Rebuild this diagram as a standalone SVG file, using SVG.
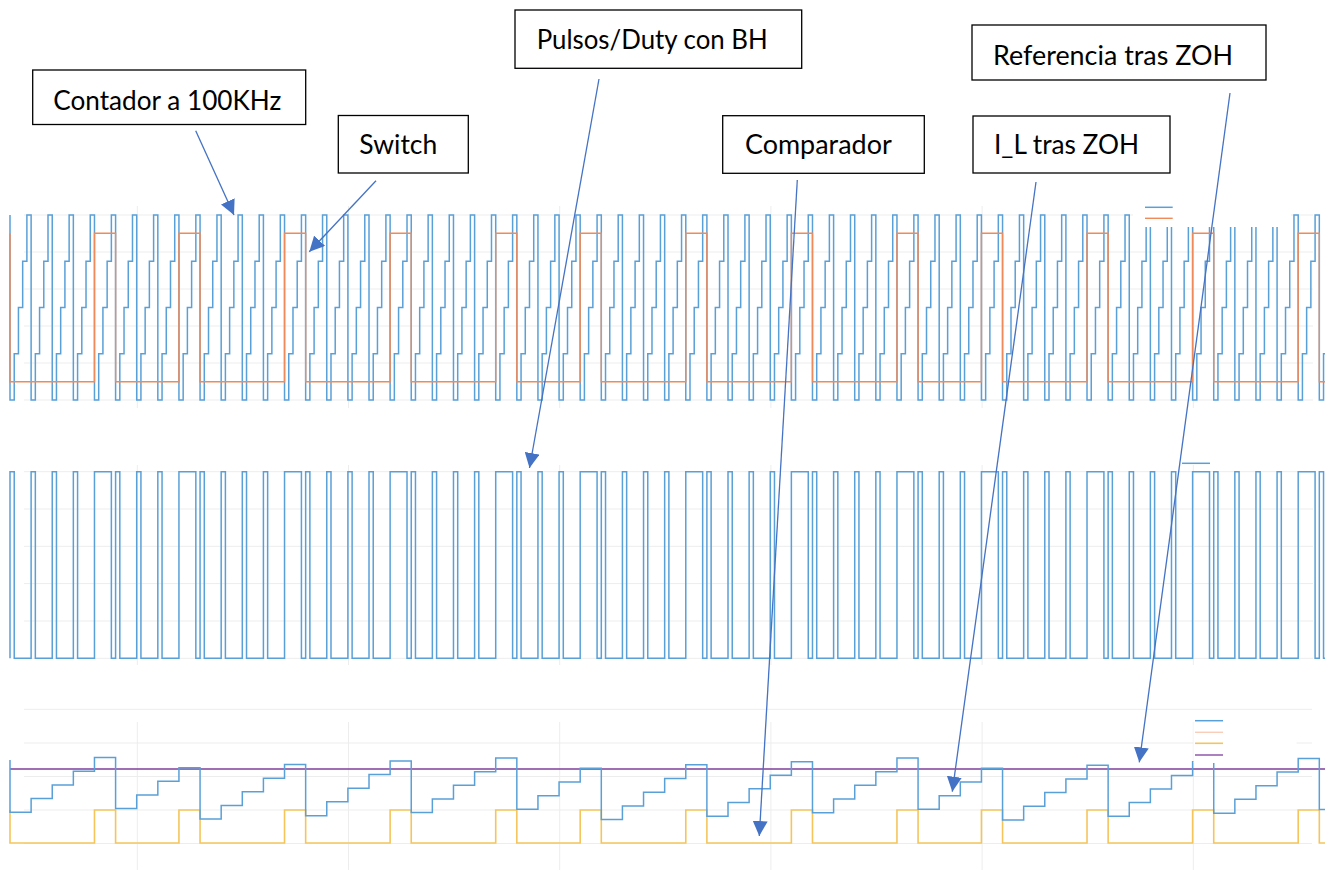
<svg xmlns="http://www.w3.org/2000/svg" width="1337" height="879" viewBox="0 0 1337 879">
  <style>
    .grid { stroke: #ededed; stroke-width: 1; fill: none; }
    .blue { stroke: #5aa0d8; stroke-width: 1.5; fill: none; stroke-linejoin: miter; }
    .orange { stroke: #ef8a5a; stroke-width: 1.4; fill: none; }
    .yellow { stroke: #f5c55c; stroke-width: 1.6; fill: none; }
    .purple { stroke: #7e3f9c; stroke-width: 1.3; fill: none; }
    .legend-bg { fill: #ffffff; stroke: none; }
    .box { fill: #ffffff; stroke: #000000; stroke-width: 1.3; }
    .label { font-family: Lato, "Liberation Sans", sans-serif; font-size: 27px; fill: #000000; }
    .conn { stroke: #4472c4; stroke-width: 1.3; fill: none; marker-end: url(#head); }
  </style>
  <defs>
    <marker id="head" viewBox="0 0 15 15" refX="15" refY="7.5" markerWidth="15" markerHeight="15" orient="auto" markerUnits="userSpaceOnUse">
      <path d="M0,0 L15,7.5 L0,15 z" fill="#4472c4"/>
    </marker>
  </defs>
  <rect width="1337" height="879" fill="#ffffff"/>

  <!-- top plot: counter and switch -->
  <g id="plot-counter">
    <path class="grid" d="M24,215H1313M24,252H1313M24,289H1313M24,326H1313M24,363H1313M24,400H1313M137.3,206V408M348.5,206V408M559.7,206V408M770.9,206V408M982.1,206V408M1193.3,206V408"/>
    <path class="blue" d="M10,215V400
      h4.2236V353.75h4.2236V307.5h4.2236V261.25h4.2236V215h4.2236V400h4.2236V353.75h4.2236V307.5h4.2236V261.25h4.2236V215h4.2236V400h4.2236V353.75h4.2236V307.5h4.2236V261.25h4.2236V215h4.2236V400h4.2236V353.75h4.2236V307.5h4.2236V261.25h4.2236V215h4.2236V400h4.2236V353.75h4.2236V307.5h4.2236V261.25h4.2236V215h4.2236V400
      h4.2236V353.75h4.2236V307.5h4.2236V261.25h4.2236V215h4.2236V400h4.2236V353.75h4.2236V307.5h4.2236V261.25h4.2236V215h4.2236V400h4.2236V353.75h4.2236V307.5h4.2236V261.25h4.2236V215h4.2236V400h4.2236V353.75h4.2236V307.5h4.2236V261.25h4.2236V215h4.2236V400h4.2236V353.75h4.2236V307.5h4.2236V261.25h4.2236V215h4.2236V400
      h4.2236V353.75h4.2236V307.5h4.2236V261.25h4.2236V215h4.2236V400h4.2236V353.75h4.2236V307.5h4.2236V261.25h4.2236V215h4.2236V400h4.2236V353.75h4.2236V307.5h4.2236V261.25h4.2236V215h4.2236V400h4.2236V353.75h4.2236V307.5h4.2236V261.25h4.2236V215h4.2236V400h4.2236V353.75h4.2236V307.5h4.2236V261.25h4.2236V215h4.2236V400
      h4.2236V353.75h4.2236V307.5h4.2236V261.25h4.2236V215h4.2236V400h4.2236V353.75h4.2236V307.5h4.2236V261.25h4.2236V215h4.2236V400h4.2236V353.75h4.2236V307.5h4.2236V261.25h4.2236V215h4.2236V400h4.2236V353.75h4.2236V307.5h4.2236V261.25h4.2236V215h4.2236V400h4.2236V353.75h4.2236V307.5h4.2236V261.25h4.2236V215h4.2236V400
      h4.2236V353.75h4.2236V307.5h4.2236V261.25h4.2236V215h4.2236V400h4.2236V353.75h4.2236V307.5h4.2236V261.25h4.2236V215h4.2236V400h4.2236V353.75h4.2236V307.5h4.2236V261.25h4.2236V215h4.2236V400h4.2236V353.75h4.2236V307.5h4.2236V261.25h4.2236V215h4.2236V400h4.2236V353.75h4.2236V307.5h4.2236V261.25h4.2236V215h4.2236V400
      h4.2236V353.75h4.2236V307.5h4.2236V261.25h4.2236V215h4.2236V400h4.2236V353.75h4.2236V307.5h4.2236V261.25h4.2236V215h4.2236V400h4.2236V353.75h4.2236V307.5h4.2236V261.25h4.2236V215h4.2236V400h4.2236V353.75h4.2236V307.5h4.2236V261.25h4.2236V215h4.2236V400h4.2236V353.75h4.2236V307.5h4.2236V261.25h4.2236V215h4.2236V400
      h4.2236V353.75h4.2236V307.5h4.2236V261.25h4.2236V215h4.2236V400h4.2236V353.75h4.2236V307.5h4.2236V261.25h4.2236V215h4.2236V400h4.2236V353.75h4.2236V307.5h4.2236V261.25h4.2236V215h4.2236V400h4.2236V353.75h4.2236V307.5h4.2236V261.25h4.2236V215h4.2236V400h4.2236V353.75h4.2236V307.5h4.2236V261.25h4.2236V215h4.2236V400
      h4.2236V353.75h4.2236V307.5h4.2236V261.25h4.2236V215h4.2236V400h4.2236V353.75h4.2236V307.5h4.2236V261.25h4.2236V215h4.2236V400h4.2236V353.75h4.2236V307.5h4.2236V261.25h4.2236V215h4.2236V400h4.2236V353.75h4.2236V307.5h4.2236V261.25h4.2236V215h4.2236V400h4.2236V353.75h4.2236V307.5h4.2236V261.25h4.2236V215h4.2236V400
      h4.2236V353.75h4.2236V307.5h4.2236V261.25h4.2236V215h4.2236V400h4.2236V353.75h4.2236V307.5h4.2236V261.25h4.2236V215h4.2236V400h4.2236V353.75h4.2236V307.5h4.2236V261.25h4.2236V215h4.2236V400h4.2236V353.75h4.2236V307.5h4.2236V261.25h4.2236V215h4.2236V400h4.2236V353.75h4.2236V307.5h4.2236V261.25h4.2236V215h4.2236V400
      h4.2236V353.75h4.2236V307.5h4.2236V261.25h4.2236V215h4.2236V400h4.2236V353.75h4.2236V307.5h4.2236V261.25h4.2236V215h4.2236V400h4.2236V353.75h4.2236V307.5h4.2236V261.25h4.2236V215h4.2236V400h4.2236V353.75h4.2236V307.5h4.2236V261.25h4.2236V215h4.2236V400h4.2236V353.75h4.2236V307.5h4.2236V261.25h4.2236V215h4.2236V400
      h4.2236V353.75h4.2236V307.5h4.2236V261.25h4.2236V215h4.2236V400h4.2236V353.75h4.2236V307.5h4.2236V261.25h4.2236V215h4.2236V400h4.2236V353.75h4.2236V307.5h4.2236V261.25h4.2236V215h4.2236V400h4.2236V353.75h4.2236V307.5h4.2236V261.25h4.2236V215h4.2236V400h4.2236V353.75h4.2236V307.5h4.2236V261.25h4.2236V215h4.2236V400
      h4.2236V353.75h4.2236V307.5h4.2236V261.25h4.2236V215h4.2236V400h4.2236V353.75h4.2236V307.5h4.2236V261.25h4.2236V215h4.2236V400h4.2236V353.75h4.2236V307.5h4.2236V261.25h4.2236V215h4.2236V400h4.2236V353.75h4.2236V307.5h4.2236V261.25h4.2236V215h4.2236V400h4.2236V353.75h4.2236V307.5h4.2236V261.25h4.2236V215h4.2236V400
      h4.2236V353.75h4.2236V307.5h4.2236V261.25h4.2236V215h4.2236V400h4.2236V353.75h4.2236V307.5h4.2236V261.25h4.2236V215h4.2236V400
      h4.2236V353.75h1.5"/>
    <path class="orange" d="M10,233.3V381.7H94.47V233.3H115.59V381.7H178.94V233.3H200.06V381.7H284.53V233.3H305.65V381.7H390.12V233.3H411.24V381.7H495.71V233.3H516.83V381.7H580.19V233.3H601.3V381.7H685.78V233.3H706.89V381.7H791.37V233.3H812.48V381.7H896.96V233.3H918.07V381.7H981.43V233.3H1002.55V381.7H1087.02V233.3H1108.14V381.7H1192.61V233.3H1213.73V381.7H1298.2V233.3H1319.32V381.7H1325"/>
    <rect class="legend-bg" x="1133" y="192" width="158" height="35"/>
    <path class="blue" d="M1145,207.3H1172.7"/>
    <path class="orange" d="M1145,218.3H1172.7"/>
  </g>

  <!-- middle plot: gate pulses -->
  <g id="plot-pulses">
    <path class="grid" d="M24,471.7H1313M24,509H1313M24,546.3H1313M24,583.6H1313M24,621H1313M24,658.3H1313M137.3,465V665M348.5,465V665M559.7,465V665M770.9,465V665M982.1,465V665M1193.3,465V665"/>
    <path class="blue" d="M10,658.3
      V471.7h4.2236V658.3h16.8944V471.7h4.2236V658.3h16.8944V471.7h4.2236V658.3h16.8944V471.7h4.2236V658.3h16.8944
      V471.7h16.8944V658.3h4.2236
      V471.7h4.2236V658.3h16.8944V471.7h4.2236V658.3h16.8944V471.7h4.2236V658.3h16.8944
      V471.7h16.8944V658.3h4.2236
      V471.7h4.2236V658.3h16.8944V471.7h4.2236V658.3h16.8944V471.7h4.2236V658.3h16.8944V471.7h4.2236V658.3h16.8944
      V471.7h16.8944V658.3h4.2236
      V471.7h4.2236V658.3h16.8944V471.7h4.2236V658.3h16.8944V471.7h4.2236V658.3h16.8944V471.7h4.2236V658.3h16.8944
      V471.7h16.8944V658.3h4.2236
      V471.7h4.2236V658.3h16.8944V471.7h4.2236V658.3h16.8944V471.7h4.2236V658.3h16.8944V471.7h4.2236V658.3h16.8944
      V471.7h16.8944V658.3h4.2236
      V471.7h4.2236V658.3h16.8944V471.7h4.2236V658.3h16.8944V471.7h4.2236V658.3h16.8944
      V471.7h16.8944V658.3h4.2236
      V471.7h4.2236V658.3h16.8944V471.7h4.2236V658.3h16.8944V471.7h4.2236V658.3h16.8944V471.7h4.2236V658.3h16.8944
      V471.7h16.8944V658.3h4.2236
      V471.7h4.2236V658.3h16.8944V471.7h4.2236V658.3h16.8944V471.7h4.2236V658.3h16.8944V471.7h4.2236V658.3h16.8944
      V471.7h16.8944V658.3h4.2236
      V471.7h4.2236V658.3h16.8944V471.7h4.2236V658.3h16.8944V471.7h4.2236V658.3h16.8944V471.7h4.2236V658.3h16.8944
      V471.7h16.8944V658.3h4.2236
      V471.7h4.2236V658.3h16.8944V471.7h4.2236V658.3h16.8944V471.7h4.2236V658.3h16.8944
      V471.7h16.8944V658.3h4.2236
      V471.7h4.2236V658.3h16.8944V471.7h4.2236V658.3h16.8944V471.7h4.2236V658.3h16.8944V471.7h4.2236V658.3h16.8944
      V471.7h16.8944V658.3h4.2236
      V471.7h4.2236V658.3h16.8944V471.7h4.2236V658.3h16.8944V471.7h4.2236V658.3h16.8944V471.7h4.2236V658.3h16.8944
      V471.7h16.8944V658.3h4.2236
      V471.7h4.2236V658.3h16.8944V471.7h4.2236V658.3h16.8944V471.7h4.2236V658.3h16.8944V471.7h4.2236V658.3h16.8944
      V471.7h16.8944V658.3h4.2236
      V471.7h4.2236V658.3h1.5"/>
    <path class="blue" d="M1182,463.3H1210"/>
  </g>

  <!-- bottom plot: sampled current, reference and comparator -->
  <g id="plot-zoh">
    <path class="grid" d="M24,709.3H1312M24,743H1312M24,776.5H1312M24,810H1312M24,843.5H1312M137.3,722V870M348.5,722V870M559.7,722V870M770.9,722V870M982.1,722V870M1193.3,722V870"/>
    <path class="purple" d="M10,769H1325"/>
    <path class="yellow" d="M10,810V843H94.47V810H115.59V843H178.94V810H200.06V843H284.53V810H305.65V843H390.12V810H411.24V843H495.71V810H516.83V843H580.19V810H601.3V843H685.78V810H706.89V843H791.37V810H812.48V843H896.96V810H918.07V843H981.43V810H1002.55V843H1087.02V810H1108.14V843H1192.61V810H1213.73V843H1298.2V810H1319.32V843H1325"/>
    <path class="blue" d="M10,760V812.3H31.12V798.5H52.24V785H73.35V771.3H94.47V757.5H115.59V808.5H136.71V795H157.83V781.3H178.94V767.8H200.06V819H221.18V805.5H242.3V791.8H263.42V778.3H284.53V764.5H305.65V815.8H326.77V801.8H347.89V788.3H369.01V774.5H390.12V761H411.24V812.5H432.36V799H453.48V785.3H474.6V771.7H495.71V758H516.83V809.2H537.95V795.7H559.07V782H580.19V768.3H601.3V819.5H622.42V806H643.54V792.3H664.66V778.6H685.78V764.8H706.89V816.2H728.01V802.5H749.13V788.8H770.25V775.2H791.37V761.7H812.48V812.7H833.6V799H854.72V785.3H875.84V771.7H896.96V758H918.07V809.3H939.19V795.7H960.31V781.9H981.43V768.3H1002.55V820H1023.66V806.3H1044.78V792.6H1065.9V779H1087.02V765.3H1108.14V816.3H1129.25V802.6H1150.37V789H1171.49V775.4H1192.61V761.8H1213.73V813.3H1234.84V799.3H1255.96V785.8H1277.08V771.9H1298.2V758.4H1319.32V809.5H1325"/>
    <rect class="legend-bg" x="1193.5" y="713" width="103" height="50"/>
    <path class="blue" d="M1195,720.7H1223"/>
    <path stroke="#f9cdb8" stroke-width="1.4" fill="none" d="M1195,732.3H1223"/>
    <path class="yellow" d="M1195,743.3H1223"/>
    <path class="purple" d="M1195,755H1223"/>
  </g>

  <!-- callout labels -->
  <g id="label-contador">
    <rect class="box" x="32.7" y="70" width="273" height="54.5"/>
    <text class="label" x="53.3" y="110" textLength="228" lengthAdjust="spacingAndGlyphs">Contador a 100KHz</text>
  </g>
  <g id="label-switch">
    <rect class="box" x="338.3" y="115.5" width="130" height="57.5"/>
    <text class="label" x="359.3" y="154" textLength="78" lengthAdjust="spacingAndGlyphs">Switch</text>
  </g>
  <g id="label-pulsos">
    <rect class="box" x="515" y="10" width="286.7" height="58.3"/>
    <text class="label" x="536.7" y="49.3" textLength="231" lengthAdjust="spacingAndGlyphs">Pulsos/Duty con BH</text>
  </g>
  <g id="label-comparador">
    <rect class="box" x="722.7" y="115.7" width="201.6" height="57.6"/>
    <text class="label" x="745" y="154" textLength="146.7" lengthAdjust="spacingAndGlyphs">Comparador</text>
  </g>
  <g id="label-referencia">
    <rect class="box" x="972" y="25" width="294" height="55"/>
    <text class="label" x="993" y="64.5" textLength="240" lengthAdjust="spacingAndGlyphs">Referencia tras ZOH</text>
  </g>
  <g id="label-il">
    <rect class="box" x="973" y="116" width="197" height="57"/>
    <text class="label" x="994" y="154" textLength="145" lengthAdjust="spacingAndGlyphs">I_L tras ZOH</text>
  </g>

  <!-- pointers from labels to traces -->
  <g id="connectors">
    <line class="conn" x1="195.7" y1="130.7" x2="234" y2="215"/>
    <line class="conn" x1="376" y1="180.7" x2="309.3" y2="251.7"/>
    <line class="conn" x1="599" y1="79" x2="529.5" y2="468"/>
    <line class="conn" x1="797.3" y1="180" x2="759.3" y2="836"/>
    <line class="conn" x1="1036" y1="182" x2="952.3" y2="791.7"/>
    <line class="conn" x1="1230" y1="93" x2="1139.3" y2="762.3"/>
  </g>
</svg>
